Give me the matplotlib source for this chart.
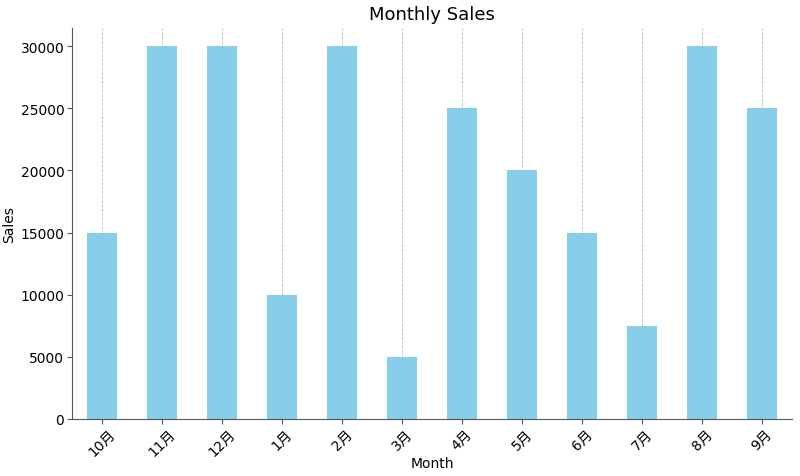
import matplotlib
matplotlib.use("Agg")
import matplotlib.pyplot as plt
import numpy as np

plt.rcParams["font.family"] = ["DejaVu Sans", "Noto Sans CJK SC"]
plt.rcParams["font.size"] = 10

months = ["10月", "11月", "12月", "1月", "2月", "3月", "4月", "5月", "6月", "7月", "8月", "9月"]
sales = [15000, 30000, 30000, 10000, 30000, 5000, 25000, 20000, 15000, 7500, 30000, 25000]

fig, ax = plt.subplots(figsize=(8, 4.77), dpi=100)
x = np.arange(len(months))
ax.bar(x, sales, width=0.5, color="skyblue", zorder=2)
ax.set_xlim(-0.5, len(months) - 0.5)
ax.set_xticks(x)
ax.set_xticklabels(months, rotation=45)
ax.set_xlabel("Month", labelpad=-2)
ax.set_ylabel("Sales", labelpad=3)
ax.set_title("Monthly Sales", fontsize=13)
ax.grid(axis="x", linestyle="--", linewidth=0.6, color="#bbbbbb", zorder=0)
ax.spines["top"].set_visible(False)
ax.spines["right"].set_visible(False)
for s in ("left", "bottom"):
    ax.spines[s].set_color("#555555")
ax.tick_params(colors="#555555", labelcolor="black")
ax.tick_params(axis="y", pad=2)
ax.tick_params(axis="x", pad=2)
fig.subplots_adjust(left=0.09, right=0.99, top=0.94, bottom=0.12)
fig.savefig("out.png", dpi=100)
